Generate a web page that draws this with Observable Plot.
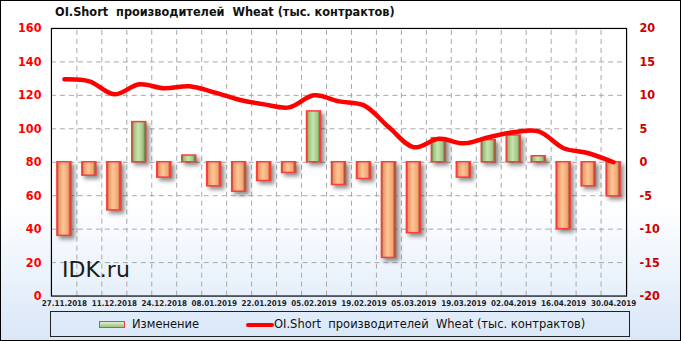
<!DOCTYPE html>
<html>
<head>
<meta charset="utf-8">
<script src="https://cdn.jsdelivr.net/npm/d3@7"></script>
<script src="https://cdn.jsdelivr.net/npm/@observablehq/plot@0.6"></script>
<style>
  html, body { margin: 0; padding: 0; }
  body { font-family: "DejaVu Sans", sans-serif; }
  #wrap {
    position: relative; width: 681px; height: 341px; box-sizing: border-box;
    border: 1px solid #000;
    background: linear-gradient(to bottom, #ffffff 0%, #ffffff 60%, #d9e7f8 100%);
    overflow: hidden;
  }
  #chart { position: absolute; left: -1px; top: -1px; }
  #chart svg { background: transparent !important; }
  #title { position: absolute; left: 54px; top: 3px; font-weight: bold; font-size: 12.6px; font-stretch: condensed; color: #111; white-space: pre; }
  #wm { position: absolute; left: 61px; top: 256px; font-size: 22px; color: #1a1a1a; }
  #legend { position: absolute; left: 49px; top: 310px; width: 580px; height: 26px; box-sizing: border-box; border: 1px solid #222; font-size: 11.5px; color: #111; }
  .sw-bar { position: absolute; left: 48px; top: 9px; width: 26px; height: 7px; box-sizing: border-box; border: 1.5px solid #f04040; background: linear-gradient(to bottom, #dff0cf, #9cc47e); }
  .lt { position: absolute; top: 5px; white-space: pre; }
  .sw-line { position: absolute; left: 195px; top: 11px; width: 28px; height: 4px; background: #ff0000; border-radius: 2px; }
  svg g[aria-label="bar"] rect { filter: drop-shadow(3px 3px 2px rgba(0,0,0,0.45)); }
</style>
</head>
<body>
<div id="wrap">
  <div id="chart"></div>
  <div id="title">OI.Short  производителей  Wheat (тыс. контрактов)</div>
  <div id="wm">IDK.ru</div>
  <div id="legend">
    <div class="sw-bar"></div><div class="lt" style="left:81px">Изменение</div>
    <div class="sw-line"></div><div class="lt" style="left:223px">OI.Short  производителей  Wheat (тыс. контрактов)</div>
  </div>
</div>
<script>
const dates = ["27.11.2018","04.12.2018","11.12.2018","18.12.2018","24.12.2018","31.12.2018","08.01.2019","15.01.2019","22.01.2019","29.01.2019","05.02.2019","12.02.2019","19.02.2019","26.02.2019","05.03.2019","12.03.2019","19.03.2019","26.03.2019","02.04.2019","09.04.2019","16.04.2019","23.04.2019","30.04.2019"];
const changes = [-11.0,-2.0,-7.2,6.0,-2.3,1.0,-3.6,-4.4,-2.8,-1.6,7.6,-3.4,-2.5,-14.3,-10.6,3.6,-2.3,3.3,4.0,0.9,-10.0,-3.6,-5.1];
const oiShort = [129.6,128.4,120.6,126.6,124.2,125.4,121.8,117.4,114.6,112.8,120.0,116.4,114.0,100.9,89.0,94.0,91.3,95.0,98.0,98.5,88.4,85.4,80.0];
const xTickLabels = ["27.11.2018","11.12.2018","24.12.2018","08.01.2019","22.01.2019","05.02.2019","19.02.2019","05.03.2019","19.03.2019","02.04.2019","16.04.2019","30.04.2019"];
const leftTicks = [0,20,40,60,80,100,120,140,160];
const gridTicks = [20,40,60,80,100,120,140];

const data = dates.map((d, i) => ({date: d, change: changes[i], oi: oiShort[i]}));
const toLeft = v => 80 + 4 * v;   // right axis (-20..20) -> left axis (0..160)
const W = 681, H = 341, mL = 51, mR = 54, mT = 28, mB = 45;
const step = (W - mL - mR) / dates.length;
const font = "DejaVu Sans";

const plot = Plot.plot({
  width: W, height: H,
  marginLeft: mL, marginRight: mR, marginTop: mT, marginBottom: mB,
  style: {background: "transparent", fontFamily: font, fontStretch: "condensed"},
  x: {type: "band", domain: dates, paddingInner: 0.44, paddingOuter: 0.22, axis: null},
  y: {domain: [0, 160], axis: null},
  marks: [
    Plot.gridY(gridTicks, {stroke: "#a8a8a8", strokeOpacity: 1, strokeDasharray: "5,4"}),
    Plot.ruleX(dates.slice(1), {x: d => d, dx: -step / 2, stroke: "#a8a8a8", strokeDasharray: "5,4", y1: 0, y2: 160}),
    Plot.barY(data.filter(d => d.change < 0), {x: "date", y1: 80, y2: d => toLeft(d.change), fill: "url(#gNeg)", stroke: "#ff3b3b", strokeWidth: 1.5}),
    Plot.barY(data.filter(d => d.change >= 0), {x: "date", y1: 80, y2: d => toLeft(d.change), fill: "url(#gPos)", stroke: "#ff3b3b", strokeWidth: 1.5}),
    Plot.line(data, {x: "date", y: "oi", curve: "catmull-rom", stroke: "#ff0000", strokeWidth: 4.5}),
    Plot.frame({stroke: "#000", strokeWidth: 1.2}),
    Plot.axisY({ticks: leftTicks, anchor: "left", tickSize: 0, tickPadding: 10, label: null, fill: "#ff0000", fontSize: 12.5, fontWeight: "bold"}),
    Plot.axisY({ticks: leftTicks, anchor: "right", tickSize: 0, tickPadding: 13, label: null, tickFormat: d => String((d - 80) / 4), fill: "#cc0000", fontSize: 12.5, fontWeight: "bold"}),
    Plot.axisX({ticks: xTickLabels, anchor: "bottom", tickSize: 0, tickPadding: 4, label: null, fill: "#222", fontSize: 8, fontWeight: "bold"})
  ]
});

const svg = d3.select(plot);
const defs = svg.insert("defs", ":first-child");
function grad(id, stops) {
  const g = defs.append("linearGradient").attr("id", id).attr("x1", 0).attr("x2", 1).attr("y1", 0).attr("y2", 0);
  stops.forEach(([o, c]) => g.append("stop").attr("offset", o).attr("stop-color", c));
}
grad("gNeg", [[0, "#8a4526"], [0.14, "#e89a68"], [0.45, "#ffc596"], [0.8, "#f2a570"], [1, "#6e3518"]]);
grad("gPos", [[0, "#4f6e35"], [0.14, "#98c27a"], [0.45, "#c8e4b0"], [0.8, "#9fc782"], [1, "#425e2c"]]);

document.getElementById("chart").appendChild(plot);
</script>
</body>
</html>
